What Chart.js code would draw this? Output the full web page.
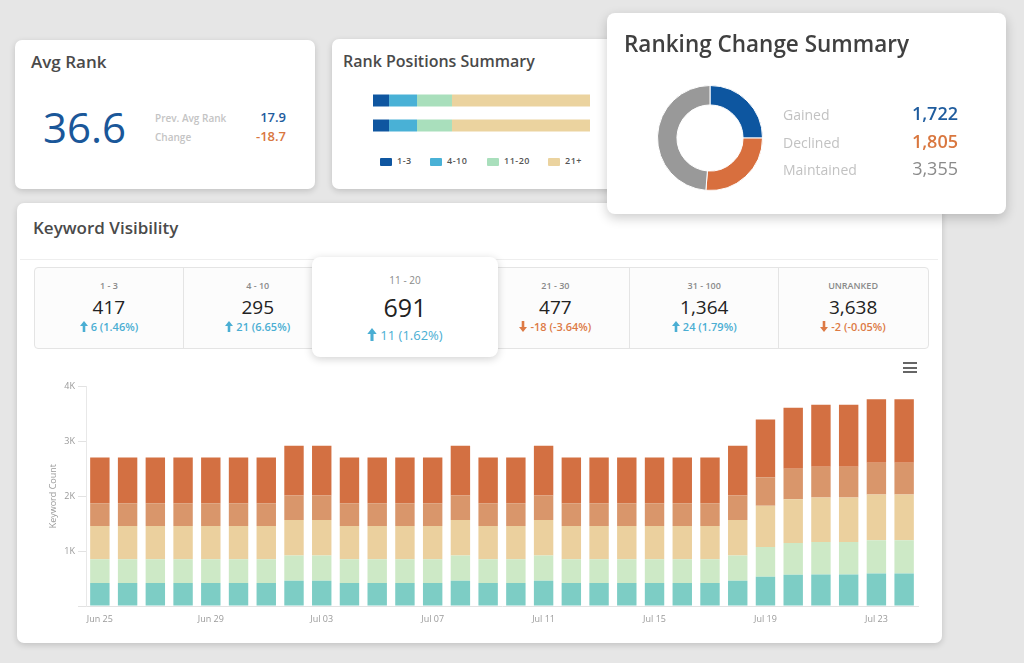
<!DOCTYPE html>
<html>
<head>
<meta charset="utf-8">
<script src="https://cdn.jsdelivr.net/npm/chart.js@4.4.1/dist/chart.umd.min.js"></script>
<style>
  html, body { margin: 0; padding: 0; }
  body {
    width: 1024px; height: 663px; overflow: hidden; position: relative;
    background: #e6e6e6; font-family: "Open Sans", "Noto Sans", sans-serif; color: #4a4a4a;
  }
  .card { position: absolute; background: #fff; border-radius: 7px; box-shadow: 0 2px 6px rgba(0,0,0,0.16); }
  .abs { position: absolute; white-space: nowrap; }
  .title { font-weight: 600; color: #4a4a4a; }
  .cell { position: absolute; top: 0; height: 80px; border-right: 1px solid #e4e4e4; text-align: center; }
  .cell .lbl { position: absolute; left: 0; right: 0; top: 11px; font-size: 9px; font-weight: 600; color: #8a8a8a; }
  .cell .val { position: absolute; left: 0; right: 0; top: 26px; font-size: 19px; color: #222; }
  .cell .chg { position: absolute; left: 0; right: 0; top: 51px; font-size: 11px; font-weight: 600; }
  .up { color: #4aaed3; }
  .down { color: #dd7a45; }
  .arrow { display: inline-block; vertical-align: -1px; margin-right: 3px; }
</style>
</head>
<body>

<!-- Avg Rank -->
<div class="card" style="left:15px;top:40px;width:300px;height:149px;">
  <div class="abs title" style="left:16px;top:10px;font-size:17px;">Avg Rank</div>
  <div class="abs" style="left:28px;top:58px;font-size:42px;color:#1a5799;">36.6</div>
  <div class="abs" style="left:140px;top:71px;font-size:10px;font-weight:600;color:#c4c4c4;">Prev. Avg Rank</div>
  <div class="abs" style="left:140px;top:90px;font-size:10px;font-weight:600;color:#c4c4c4;">Change</div>
  <div class="abs" style="right:29px;top:68px;font-size:13px;font-weight:600;color:#1f5c9e;">17.9</div>
  <div class="abs" style="right:29px;top:87px;font-size:13px;font-weight:600;color:#d9773f;">-18.7</div>
</div>

<!-- Rank Positions Summary -->
<div class="card" style="left:332px;top:39px;width:295px;height:150px;">
  <div class="abs title" style="left:11px;top:11px;font-size:16px;">Rank Positions Summary</div>
  <div class="abs" style="left:41px;top:49px;width:217px;height:50px;"><canvas id="rankBars"></canvas></div>
  <div id="rankLegend" class="abs" style="left:0;top:116px;width:295px;height:14px;"></div>
</div>

<!-- Keyword Visibility -->
<div class="card" style="left:17px;top:203px;width:925px;height:440px;">
  <div class="abs title" style="left:16px;top:13px;font-size:17px;">Keyword Visibility</div>
  <div class="abs" style="left:3px;top:56px;width:918px;height:1px;background:#eeeeee;"></div>
  <div id="statsRow" class="abs" style="left:17px;top:64px;width:893px;height:80px;border:1px solid #e4e4e4;border-radius:4px;background:#fcfcfc;"></div>
  <div class="abs" style="left:886px;top:159px;width:14px;height:2px;background:#666;"></div>
  <div class="abs" style="left:886px;top:163.5px;width:14px;height:2px;background:#666;"></div>
  <div class="abs" style="left:886px;top:168px;width:14px;height:2px;background:#666;"></div>
  <div class="abs" style="left:23px;top:175px;width:890px;height:255px;"><canvas id="visChart"></canvas></div>
</div>

<!-- elevated cell -->
<div id="liftCell" class="card" style="left:312px;top:257px;width:186px;height:100px;border-radius:8px;box-shadow:0 2px 8px rgba(0,0,0,0.18);text-align:center;"></div>

<!-- Ranking Change Summary -->
<div class="card" style="left:607px;top:13px;width:399px;height:201px;border-radius:8px;box-shadow:0 4px 12px rgba(0,0,0,0.2);">
  <div class="abs title" style="left:17px;top:15px;font-size:22.5px;font-weight:600;color:#404040;">Ranking Change Summary</div>
  <div class="abs" style="left:50px;top:72px;width:106px;height:106px;"><canvas id="changeDonut"></canvas></div>
  <div id="changeLegend"></div>
</div>

<script>
// --- rank positions summary
const positionBuckets = ['1-3', '4-10', '11-20', '21+']
const positionShareNow = [7.4, 12.9, 16.1, 63.6]
const positionSharePrev = [7.4, 12.9, 16.1, 63.6]
const positionColors = ['#0f56a0', '#49b1d6', '#a9dfbc', '#ebd39f']

// --- ranking change summary
const changeLabels = ['Gained', 'Declined', 'Maintained']
const changeCounts = [1722, 1805, 3355]
const changeColors = ['#0d56a0', '#d86f3e', '#999999']
const changeTextColors = ['#1f5c9e', '#d9773f', '#8a8a8a']

// --- keyword visibility boxes
const rangeLabels = ['1 - 3', '4 - 10', '11 - 20', '21 - 30', '31 - 100', 'UNRANKED']
const rangeCounts = [417, 295, 691, 477, 1364, 3638]
const rangeDeltas = [6, 21, 11, -18, 24, -2]
const rangePcts = ['1.46%', '6.65%', '1.62%', '-3.64%', '1.79%', '-0.05%']

// --- keyword visibility chart
const dates = ['Jun 25', 'Jun 26', 'Jun 27', 'Jun 28', 'Jun 29', 'Jun 30', 'Jul 01', 'Jul 02', 'Jul 03', 'Jul 04',
  'Jul 05', 'Jul 06', 'Jul 07', 'Jul 08', 'Jul 09', 'Jul 10', 'Jul 11', 'Jul 12', 'Jul 13', 'Jul 14',
  'Jul 15', 'Jul 16', 'Jul 17', 'Jul 18', 'Jul 19', 'Jul 20', 'Jul 21', 'Jul 22', 'Jul 23', 'Jul 24']
const rank1to3 = [420, 420, 420, 420, 420, 420, 420, 460, 460, 420, 420, 420, 420, 460, 420, 420, 460, 420, 420, 420, 420, 420, 420, 460, 532, 568, 574, 574, 592, 592]
const rank4to10 = [430, 430, 430, 430, 430, 430, 430, 458, 458, 430, 430, 430, 430, 458, 430, 430, 458, 430, 430, 430, 430, 430, 430, 458, 544, 580, 592, 592, 604, 604]
const rank11to20 = [605, 605, 605, 605, 605, 605, 605, 647, 647, 605, 605, 605, 605, 647, 605, 605, 647, 605, 605, 605, 605, 605, 605, 647, 749, 798, 810, 810, 834, 834]
const rank21to30 = [417, 417, 417, 417, 417, 417, 417, 447, 447, 417, 417, 417, 417, 447, 417, 417, 447, 417, 417, 417, 417, 417, 417, 447, 519, 556, 562, 562, 580, 580]
const rank31to100 = [835, 835, 835, 835, 835, 835, 835, 905, 905, 835, 835, 835, 835, 905, 835, 835, 905, 835, 835, 835, 835, 835, 835, 905, 1052, 1111, 1130, 1130, 1154, 1154]
const seriesColors = ['#7dcdc5', '#cde9c6', '#ebd09e', '#d9966b', '#d37042']
const yTicks = [0, 1000, 2000, 3000, 4000]

const fmt = (n) => n.toLocaleString('en-US')

function arrowSvg(up, w, h) {
  const pts = up ? '4,0 8,5 5.3,5 5.3,11 2.7,11 2.7,5 0,5' : '4,11 8,6 5.3,6 5.3,0 2.7,0 2.7,6 0,6'
  return `<svg class="arrow" width="${w}" height="${h}" viewBox="0 0 8 11"><polygon points="${pts}" fill="currentColor"/></svg>`
}

// legend for rank positions
document.getElementById('rankLegend').innerHTML = positionBuckets
  .map((b, i) => {
    const left = [48, 98, 155, 216][i]
    return `<div class="abs" style="left:${left}px;top:3px;width:12px;height:8px;background:${positionColors[i]};border-radius:1px;"></div>
      <div class="abs" style="left:${left + 17}px;top:-1px;font-size:9px;font-weight:600;color:#555;letter-spacing:0.5px;">${b}</div>`
  })
  .join('')

// donut legend
document.getElementById('changeLegend').innerHTML = changeLabels
  .map((l, i) => `
    <div class="abs" style="left:176px;top:${92 + i * 27.5}px;font-size:14px;color:#c2c2c2;">${l}</div>
    <div class="abs" style="right:48px;top:${88 + i * 27.5}px;font-size:18px;font-weight:${i === 2 ? 500 : 600};color:${changeTextColors[i]};">${fmt(changeCounts[i])}</div>
  `)
  .join('')

// stat boxes
const cellW = 893 / 6
document.getElementById('statsRow').innerHTML = rangeLabels
  .map((l, i) => {
    if (i === 2) return ''
    const up = rangeDeltas[i] >= 0
    return `<div class="cell" style="left:${i * cellW}px;width:${cellW - 1}px;${i === 5 ? 'border-right:none;' : ''}">
      <div class="lbl">${l}</div>
      <div class="val">${fmt(rangeCounts[i])}</div>
      <div class="chg ${up ? 'up' : 'down'}">${arrowSvg(up, 8, 11)}${rangeDeltas[i]} (${rangePcts[i]})</div>
    </div>`
  })
  .join('')

document.getElementById('liftCell').innerHTML = `
  <div class="abs" style="left:0;right:0;top:16px;font-size:10px;color:#8a8a8a;">${rangeLabels[2]}</div>
  <div class="abs" style="left:0;right:0;top:33px;font-size:25px;color:#222;">${fmt(rangeCounts[2])}</div>
  <div class="abs up" style="left:0;right:0;top:69px;font-size:13px;">${arrowSvg(true, 10, 13)}${rangeDeltas[2]} (${rangePcts[2]})</div>
`

// rank positions stacked bars
new Chart(document.getElementById('rankBars'), {
  type: 'bar',
  data: {
    labels: ['Current', 'Previous'],
    datasets: positionBuckets.map((b, i) => ({
      label: b,
      data: [positionShareNow[i], positionSharePrev[i]],
      backgroundColor: positionColors[i],
      borderWidth: 0,
      barPercentage: 0.48,
      categoryPercentage: 1
    }))
  },
  options: {
    indexAxis: 'y',
    responsive: true,
    maintainAspectRatio: false,
    animation: false,
    layout: { padding: 0 },
    plugins: { legend: { display: false }, tooltip: { enabled: false } },
    scales: {
      x: { stacked: true, min: 0, max: 100, display: false },
      y: { stacked: true, display: false }
    }
  }
})

// ranking change donut
new Chart(document.getElementById('changeDonut'), {
  type: 'doughnut',
  data: {
    labels: changeLabels,
    datasets: [{ data: changeCounts, backgroundColor: changeColors, borderColor: '#fff', borderWidth: 1 }]
  },
  options: {
    responsive: true,
    maintainAspectRatio: false,
    animation: false,
    cutout: '63%',
    plugins: { legend: { display: false }, tooltip: { enabled: false } }
  }
})

// keyword visibility stacked columns
const seriesNames = ['1-3', '4-10', '11-20', '21-30', '31-100']
const seriesData = [rank1to3, rank4to10, rank11to20, rank21to30, rank31to100]

new Chart(document.getElementById('visChart'), {
  type: 'bar',
  data: {
    labels: dates,
    datasets: seriesData.map((d, i) => ({
      label: seriesNames[i],
      data: d,
      backgroundColor: seriesColors[i],
      borderWidth: 0,
      barPercentage: 0.7,
      categoryPercentage: 1
    }))
  },
  options: {
    responsive: true,
    maintainAspectRatio: false,
    animation: false,
    layout: { padding: { top: 7, right: 12 } },
    plugins: { legend: { display: false }, tooltip: { enabled: false } },
    scales: {
      x: {
        stacked: true,
        grid: { display: false, drawTicks: false },
        border: { color: '#e2e2e2' },
        ticks: {
          color: '#9a9a9a',
          font: { family: 'Open Sans', size: 9 },
          maxRotation: 0,
          autoSkip: false,
          padding: 8,
          callback: (v, i) => (i % 4 === 0 ? dates[i] : '')
        },
        afterFit: (s) => { s.height = 27 }
      },
      y: {
        stacked: true,
        min: 0,
        max: 4000,
        afterBuildTicks: (s) => { s.ticks = yTicks.map((v) => ({ value: v })) },
        grid: { drawOnChartArea: false, drawTicks: true, tickLength: 8, color: '#e2e2e2' },
        border: { color: '#e8e8e8' },
        ticks: {
          color: '#9a9a9a',
          font: { family: 'Open Sans', size: 9 },
          padding: 3,
          callback: (v) => (v === 0 ? '' : v / 1000 + 'K')
        },
        title: {
          display: true,
          text: 'Keyword Count',
          color: '#9a9a9a',
          font: { family: 'Open Sans', size: 9 },
          padding: { top: 8, bottom: 0 }
        },
        afterFit: (s) => { s.width = 46 }
      }
    }
  }
})
</script>
</body>
</html>
